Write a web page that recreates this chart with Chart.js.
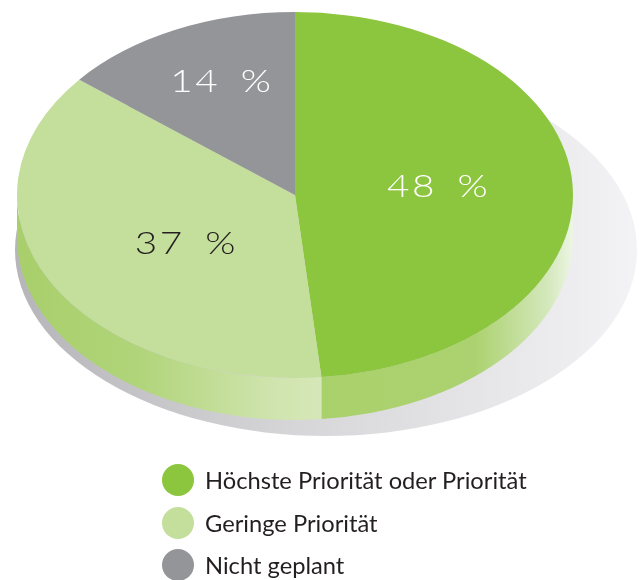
<!DOCTYPE html>
<html>
<head>
  <title>Priorität</title>
  <script src="https://cdn.jsdelivr.net/npm/chart.js"></script>
  <style>
    body {
      margin: 0;
      padding: 0;
      background: #ffffff;
      font-family: 'Lato', sans-serif;
    }
    #wrap {
      position: relative;
      width: 639px;
      height: 580px;
      overflow: hidden;
    }
    #pie {
      position: absolute;
      left: 0;
      top: 0;
    }
    #legende {
      position: absolute;
      left: 162px;
      top: 459px;
    }
    .eintrag {
      height: 42.5px;
      display: flex;
      align-items: center;
      font-size: 23.7px;
      color: #231f20;
    }
    .punkt {
      width: 32px;
      height: 32px;
      border-radius: 50%;
      margin-right: 11px;
    }
  </style>
</head>
<body>
  <div id="wrap">
    <canvas id="pie" width="639" height="580"></canvas>
    <div id="legende"></div>
  </div>

  <script>
    // daten
    const kategorien = ['Höchste Priorität oder Priorität', 'Geringe Priorität', 'Nicht geplant'];
    const werte = [48, 37, 14];
    const prozentText = ['48 %', '37 %', '14 %'];

    const farben = ['#8cc63f', '#c4df9b', '#939598'];
    const textFarben = ['#ffffff', '#231f20', '#ffffff'];
    const labelRadius = [0.51, 0.48, 0.67];
    const labelDX = [0, 7, 5];
    const labelDY = [-4, 8, -2];

    // 3d look
    const TOP_CY = 195;   // mitte der oberseite
    const K = 0.658;      // stauchung y
    const TIEFE = 42;     // hoehe der seitenwand

    function seitenVerlauf(ctx, i) {
      let g;
      if (i === 0) {
        g = ctx.createLinearGradient(315, 0, 574, 0);
        g.addColorStop(0, '#a9d16b');
        g.addColorStop(0.62, '#acd270');
        g.addColorStop(0.9, '#d4e8bc');
        g.addColorStop(1, '#eef6e6');
      } else {
        g = ctx.createLinearGradient(17, 0, 315, 0);
        g.addColorStop(0, '#a8cf6b');
        g.addColorStop(0.4, '#b0d479');
        g.addColorStop(0.85, '#cfe4ad');
        g.addColorStop(1, '#d5e7b6');
      }
      return g;
    }

    const pie3d = {
      id: 'pie3d',
      beforeDatasetsDraw(chart) {
        const ctx = chart.ctx;
        const arcs = chart.getDatasetMeta(0).data;
        if (!arcs.length) return;
        const cx = arcs[0].x;
        const R = arcs[0].outerRadius;
        const ry = R * K;

        // schatten
        ctx.save();
        const sg = ctx.createLinearGradient(15, 0, 637, 0);
        sg.addColorStop(0, '#b6b6ba');
        sg.addColorStop(0.45, '#d6d6d9');
        sg.addColorStop(0.7, '#e3e3e6');
        sg.addColorStop(1, '#f3f3f5');
        ctx.fillStyle = sg;
        ctx.beginPath();
        ctx.ellipse(326, 250, 311, 186, 0, 0, Math.PI * 2);
        ctx.fill();

        // seitenwand (nur vordere haelfte sichtbar)
        arcs.forEach((arc, i) => {
          let a1 = arc.startAngle, a2 = arc.endAngle;
          const tau = Math.PI * 2;
          while (a1 < 0) { a1 += tau; a2 += tau; }
          const teile = [[a1, a2], [a1 - tau, a2 - tau], [a1 + tau, a2 + tau]];
          teile.forEach(([s, e]) => {
            const b1 = Math.max(s, 0), b2 = Math.min(e, Math.PI);
            if (b2 <= b1) return;
            ctx.beginPath();
            ctx.ellipse(cx, TOP_CY, R, ry, 0, b1, b2, false);
            ctx.ellipse(cx, TOP_CY + TIEFE, R, ry, 0, b2, b1, true);
            ctx.closePath();
            ctx.fillStyle = seitenVerlauf(ctx, i);
            ctx.fill();
          });
        });
        ctx.restore();

        // oberseite gestaucht zeichnen
        ctx.save();
        ctx.translate(0, TOP_CY);
        ctx.scale(1, K);
        ctx.translate(0, -arcs[0].y);
      },
      afterDatasetsDraw(chart) {
        const ctx = chart.ctx;
        ctx.restore();
        const arcs = chart.getDatasetMeta(0).data;
        arcs.forEach((arc, i) => {
          const mid = (arc.startAngle + arc.endAngle) / 2;
          const r = arc.outerRadius * labelRadius[i];
          const x = arc.x + Math.cos(mid) * r + 2 + labelDX[i];
          const y = TOP_CY + Math.sin(mid) * r * K + labelDY[i];
          ctx.save();
          ctx.translate(x, y);
          ctx.scale(1.25, 1); // breitere ziffern wie im original
          ctx.font = '300 31px Lato';
          ctx.letterSpacing = '2px';
          ctx.wordSpacing = '6px';
          ctx.textAlign = 'center';
          ctx.textBaseline = 'middle';
          ctx.fillStyle = textFarben[i];
          ctx.fillText(prozentText[i], 0, 0);
          ctx.restore();
        });
      }
    };

    const ctx = document.getElementById('pie').getContext('2d');
    new Chart(ctx, {
      type: 'pie',
      data: {
        labels: kategorien,
        datasets: [{
          data: werte,
          backgroundColor: farben,
          borderWidth: 0,
          hoverOffset: 0,
          clip: false
        }]
      },
      options: {
        responsive: false,
        animation: false,
        events: [],
        layout: { padding: { left: 17, right: 66, top: 12, bottom: 12 } },
        plugins: {
          legend: { display: false },
          tooltip: { enabled: false }
        }
      },
      plugins: [pie3d]
    });

    // legende
    const leg = document.getElementById('legende');
    kategorien.forEach((name, i) => {
      const row = document.createElement('div');
      row.className = 'eintrag';
      const dot = document.createElement('span');
      dot.className = 'punkt';
      dot.style.background = farben[i];
      const txt = document.createElement('span');
      txt.textContent = name;
      row.appendChild(dot);
      row.appendChild(txt);
      leg.appendChild(row);
    });
  </script>
</body>
</html>
